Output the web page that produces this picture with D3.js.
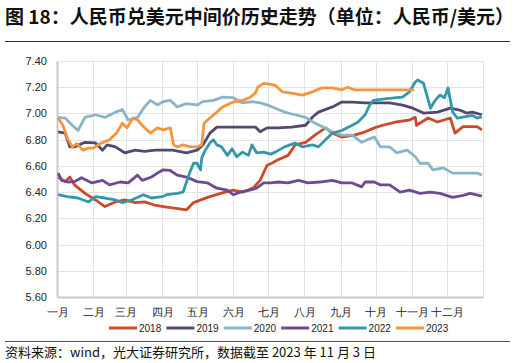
<!DOCTYPE html>
<html><head><meta charset="utf-8">
<script src="https://cdn.jsdelivr.net/npm/d3@7"></script>
<style>
html,body{margin:0;padding:0;background:#fff;}
svg{display:block;font-family:"Noto Sans CJK SC","Noto Sans",sans-serif;}
</style></head>
<body>
<svg id="c" width="516" height="363"></svg>
<script>
const title = "图 18：人民币兑美元中间价历史走势（单位：人民币/美元）";
const source = "资料来源：wind，光大证券研究所，数据截至 2023 年 11 月 3 日";
const monthLabels = ["一月","二月","三月","四月","五月","六月","七月","八月","九月","十月","十一月","十二月"];
const yTicks = [5.60,5.80,6.00,6.20,6.40,6.60,6.80,7.00,7.20,7.40];
const seriesNames = ["2018","2019","2020","2021","2022","2023"];
const seriesColors = ["#cc4a2a","#514a70","#8ab5c9","#6c4b93","#3497aa","#f6953d"];

// day of year (0 = Jan 1) and central parity values
const days2018 = [1,7,11,15,24,33,41,50,58,67,75,84,91,99,111,117,129,140,151,159,168,174,180,184,189,198,204,213,221,230,236,244,255,264,272,279,291,302,307,308,318,326,337,341,348,360,364];
const cny2018  = [6.515,6.48,6.515,6.455,6.39,6.34,6.29,6.325,6.34,6.32,6.325,6.30,6.29,6.28,6.265,6.32,6.36,6.39,6.415,6.40,6.43,6.49,6.605,6.62,6.645,6.68,6.76,6.78,6.835,6.89,6.85,6.82,6.835,6.86,6.89,6.91,6.935,6.95,6.97,6.91,6.965,6.935,6.965,6.85,6.90,6.90,6.875];

const days2019 = [1,7,11,15,24,33,39,43,50,58,67,75,84,91,99,111,120,125,131,137,146,159,170,174,180,189,201,213,219,224,236,244,253,264,285,296,305,314,326,337,345,351,356,364];
const cny2019  = [6.86,6.85,6.745,6.745,6.78,6.775,6.72,6.76,6.745,6.70,6.72,6.71,6.72,6.72,6.72,6.70,6.72,6.76,6.85,6.896,6.896,6.896,6.896,6.86,6.89,6.89,6.896,6.91,6.973,7.01,7.05,7.087,7.087,7.08,7.08,7.064,7.04,7.003,7.01,7.04,7.026,7.003,7.01,6.99];

const days2020 = [1,7,13,18,24,33,41,50,56,61,69,75,80,86,91,97,103,111,120,125,134,142,151,159,168,174,180,187,195,204,213,219,227,236,244,253,261,266,272,277,285,291,300,307,311,318,322,331,339,351,360,364];
const cny2020  = [6.97,6.965,6.91,6.87,6.97,6.99,6.97,7.01,7.03,6.95,6.97,7.05,7.10,7.065,7.09,7.10,7.05,7.075,7.065,7.09,7.10,7.125,7.12,7.08,7.09,7.08,7.065,7.04,7.01,6.99,6.97,6.935,6.90,6.86,6.835,6.835,6.78,6.80,6.82,6.745,6.745,6.70,6.72,6.67,6.62,6.62,6.57,6.585,6.545,6.545,6.545,6.53];

const days2021 = [1,4,9,15,21,30,39,45,54,61,69,73,81,87,91,97,103,111,120,129,137,146,151,157,165,171,177,183,189,198,207,215,225,236,244,253,261,264,272,277,285,294,302,311,320,328,339,348,354,364];
const cny2021  = [6.545,6.49,6.477,6.48,6.51,6.47,6.49,6.455,6.477,6.47,6.53,6.49,6.515,6.55,6.57,6.565,6.53,6.515,6.48,6.47,6.43,6.415,6.38,6.40,6.415,6.43,6.47,6.47,6.477,6.47,6.49,6.47,6.477,6.49,6.47,6.47,6.44,6.477,6.477,6.455,6.455,6.40,6.415,6.39,6.40,6.39,6.36,6.375,6.39,6.37];

const days2022 = [1,9,18,27,33,41,50,56,64,74,81,90,94,103,108,111,114,117,120,123,124,127,131,134,137,141,146,150,154,159,164,167,171,177,183,187,195,204,210,219,224,230,236,244,253,258,264,268,271,279,291,296,302,307,309,314,320,324,328,332,335,339,343,350,356,360,364];
const cny2022  = [6.38,6.365,6.355,6.325,6.365,6.355,6.34,6.32,6.34,6.38,6.355,6.365,6.38,6.39,6.40,6.477,6.555,6.62,6.62,6.57,6.66,6.72,6.775,6.80,6.76,6.745,6.68,6.73,6.67,6.705,6.68,6.76,6.70,6.705,6.69,6.705,6.745,6.775,6.745,6.76,6.745,6.80,6.85,6.87,6.91,6.935,6.99,7.065,7.10,7.11,7.12,7.125,7.165,7.24,7.255,7.23,7.04,7.10,7.14,7.12,7.195,7.01,6.965,6.975,6.985,6.965,6.973];

const days2023 = [1,5,9,13,17,22,27,31,37,45,51,56,60,65,69,74,80,86,91,97,100,103,108,114,120,124,126,131,137,142,151,159,165,170,172,177,181,187,193,201,210,219,227,236,244,249,255,264,285,306];
const cny2023  = [6.965,6.91,6.81,6.745,6.77,6.72,6.735,6.735,6.77,6.80,6.85,6.925,6.89,6.965,6.95,6.90,6.85,6.89,6.875,6.89,6.76,6.745,6.76,6.745,6.745,6.76,6.925,6.965,7.01,7.05,7.087,7.10,7.12,7.155,7.20,7.23,7.225,7.215,7.165,7.155,7.14,7.165,7.195,7.195,7.18,7.20,7.18,7.18,7.18,7.18];

const allDays = [days2018,days2019,days2020,days2021,days2022,days2023];
const allVals = [cny2018,cny2019,cny2020,cny2021,cny2022,cny2023];

const svg = d3.select("#c");
const L = 57, R = 483, T = 61, B = 297;
const base = new Date(2021,0,1);
const toDate = d => d3.timeDay.offset(base, d);
const x = d3.scaleTime().domain([base, new Date(2022,0,1)]).range([L,R]);
const y = d3.scaleLinear().domain([5.6,7.4]).range([B,T]);
const monthStarts = d3.timeMonth.range(base, new Date(2022,0,1));

// title
svg.append("text").attr("x",5).attr("y",24).attr("font-size",19).attr("font-weight","bold")
  .attr("fill","#111").text(title);
svg.append("line").attr("x1",5).attr("x2",510).attr("y1",41.5).attr("y2",41.5).attr("stroke","#333").attr("stroke-width",1);

// grid
svg.append("g").selectAll("line").data(yTicks.slice(1)).join("line")
  .attr("x1",L).attr("x2",R).attr("y1",d=>Math.round(y(d))+0.5).attr("y2",d=>Math.round(y(d))+0.5)
  .attr("stroke","#e3e3e3").attr("stroke-width",1);
svg.append("g").selectAll("line").data(monthStarts.slice(1).concat([new Date(2022,0,1)])).join("line")
  .attr("x1",d=>Math.round(x(d))+0.5).attr("x2",d=>Math.round(x(d))+0.5).attr("y1",T).attr("y2",B)
  .attr("stroke","#e3e3e3").attr("stroke-width",1);

// y axis
const yAxis = svg.append("g").attr("transform",`translate(${L},0)`)
  .call(d3.axisLeft(y).tickValues(yTicks).tickFormat(d3.format(".2f")).tickSize(0).tickPadding(10));
yAxis.select(".domain").attr("stroke","#c8c8c8").attr("stroke-width",2);
yAxis.selectAll("text").attr("font-size",11).attr("fill","#222").attr("font-family","Liberation Sans, Arial, sans-serif");

// x axis
const xAxis = svg.append("g").attr("transform",`translate(0,${B})`)
  .call(d3.axisBottom(x).tickValues(monthStarts).tickFormat((d,i)=>monthLabels[i]).tickSize(0).tickPadding(11));
xAxis.select(".domain").attr("stroke","#c8c8c8").attr("stroke-width",2);
xAxis.selectAll("text").attr("font-size",11).attr("fill","#222");

// lines
const line = d3.line().x(d=>x(toDate(d[0]))).y(d=>y(d[1])).curve(d3.curveLinear);
seriesNames.forEach((n,i)=>{
  const data = allDays[i].map((d,j)=>[d,allVals[i][j]]);
  svg.append("path").datum(data).attr("d",line).attr("fill","none")
    .attr("stroke",seriesColors[i]).attr("stroke-width",2.8).attr("stroke-linejoin","round");
});

// legend
const lg = svg.append("g").selectAll("g").data(seriesNames).join("g")
  .attr("transform",(d,i)=>`translate(${109+i*57.4},328)`);
lg.append("line").attr("x1",0).attr("x2",28).attr("stroke",(d,i)=>seriesColors[i]).attr("stroke-width",3);
lg.append("text").attr("x",30).attr("y",3.5).attr("font-size",10).attr("fill","#222")
  .attr("font-family","Liberation Sans, Arial, sans-serif").text(d=>d);

// source
svg.append("line").attr("x1",5).attr("x2",510).attr("y1",341.5).attr("y2",341.5).attr("stroke","#555").attr("stroke-width",1);
svg.append("text").attr("x",5).attr("y",357).attr("font-size",13).attr("fill","#111").text(source);
</script>
</body></html>
